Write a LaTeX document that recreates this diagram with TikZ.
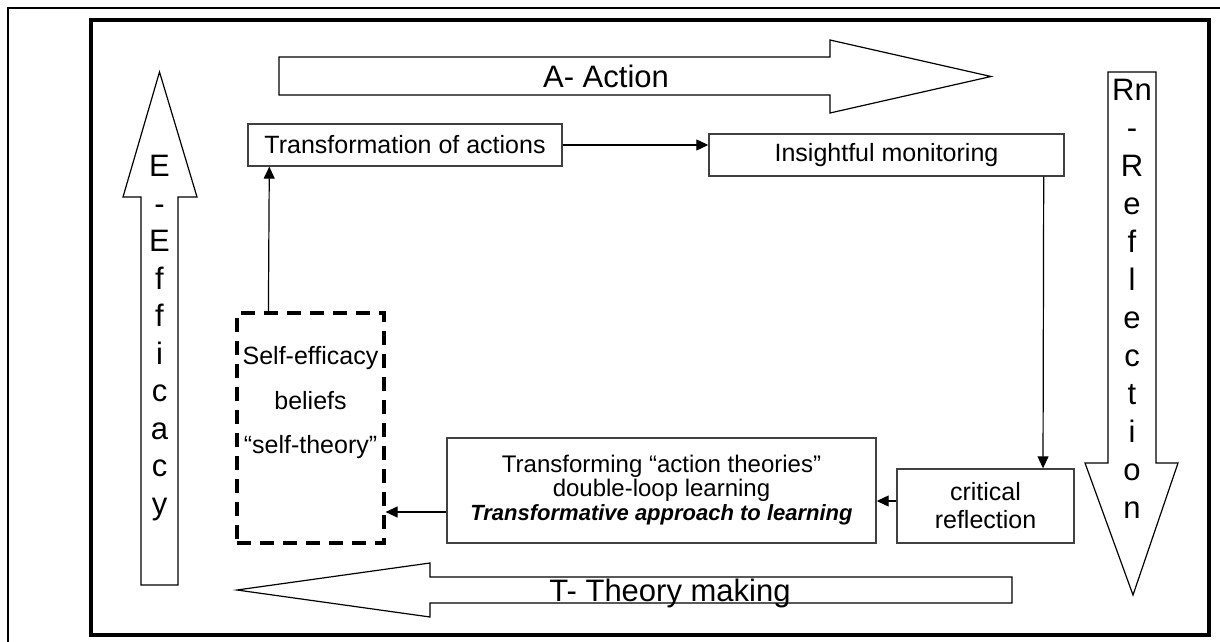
\documentclass[tikz,border=0pt]{standalone}
\usepackage{fontspec}
\setmainfont{Liberation Sans}
\usetikzlibrary{arrows.meta}
\begin{document}
\begin{tikzpicture}[x=1pt,y=-1pt,
  box/.style={draw=black!75, line width=1.4pt, inner sep=0pt, align=center, font=\fontsize{25}{28}\selectfont},
  dashbox/.style={draw=black, line width=3.2pt, dash pattern=on 14pt off 9pt, inner sep=0pt},
  conn/.style={draw=black, line width=1.2pt, -{Triangle[length=12pt,width=11pt]}},
  bigarrow/.style={draw=black, line width=1.2pt, fill=white},
  biglabel/.style={font=\fontsize{31}{37.5}\selectfont, inner sep=0pt, align=center},
]
\useasboundingbox (0,0) rectangle (1220,642);
\clip (0,0) rectangle (1220,642);
\fill[white] (0,0) rectangle (1220,642);
% frames
\draw[line width=1.5pt] (8,700) -- (8,8) -- (1300,8);
\draw[line width=3.5pt] (91,20) rectangle (1209,635);
% big arrows
\draw[bigarrow] (279,57) -- (830,57) -- (830,40) -- (991,76.5) -- (830,113) -- (830,95) -- (279,95) -- cycle;
\node[biglabel] (alab) at (606,76) {A- Action};
\draw[bigarrow] (237,590) -- (430,563) -- (430,577) -- (1012,577) -- (1012,603) -- (430,603) -- (430,617) -- cycle;
\node[biglabel, anchor=base] (tlab) at (670,601) {T- Theory making};
\draw[bigarrow] (159.5,72) -- (197,197) -- (178,197) -- (178,585) -- (141,585) -- (141,197) -- (123,197) -- cycle;
\node[biglabel, anchor=north] (elab) at (159.5,155) {E\\-\\E\\f\\f\\i\\c\\a\\c\\y};
\draw[bigarrow] (1108,72) -- (1156,72) -- (1156,463) -- (1178,463) -- (1133,595) -- (1085,463) -- (1108,463) -- cycle;
\node[biglabel, font=\fontsize{31}{38}\selectfont, anchor=north] (rlab) at (1132,79) {Rn\\-\\R\\e\\f\\l\\e\\c\\t\\i\\o\\n};
% boxes
\node[box, minimum width=314pt, minimum height=42pt] (ta) at (405,145) {Transformation of actions};
\node[box, minimum width=355pt, minimum height=42pt] (im) at (886.5,155) {Insightful monitoring};
\node[dashbox, minimum width=147pt, minimum height=230pt] (se) at (310.5,428) {};
\node[anchor=north, font=\fontsize{25}{44.5}\selectfont, align=center, inner sep=0pt] (setext) at ([yshift=-35pt]se.north) {Self-efficacy\\beliefs\\“self-theory”};
\node[box, font=\fontsize{24}{24}\selectfont, minimum width=429pt, minimum height=105pt] (tr) at (661.5,490.5) {Transforming “action theories”\\double-loop learning\\{\fontsize{22}{24}\selectfont\textbf{\textit{Transformative approach to learning}}}};
\node[box, minimum width=177pt, minimum height=74pt] (cr) at (985.5,506) {critical\\reflection};
% connectors
\draw[conn] ([xshift=33pt]se.north west) -- ([xshift=22pt]ta.south west);
\draw[conn] (ta.east) -- (ta.east -| im.west);
\draw[conn] ([xshift=-21pt]im.south east) -- ([xshift=57.5pt]cr.north);
\draw[conn] ([yshift=5pt]cr.west) -- ([yshift=-10.5pt]tr.east);
\draw[conn] ([yshift=-21.5pt]tr.west) -- ([yshift=-84pt]se.east);
\end{tikzpicture}
\end{document}
